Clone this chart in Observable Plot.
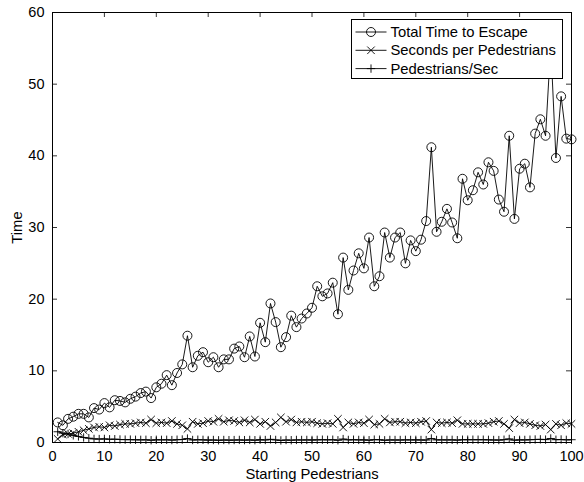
<!DOCTYPE html>
<html>
<head>
<meta charset="utf-8">
<script src="https://cdn.jsdelivr.net/npm/d3@7"></script>
<script src="https://cdn.jsdelivr.net/npm/@observablehq/plot@0.6"></script>
<style>
  html, body { margin: 0; padding: 0; background: #fff; }
  svg { display: block; }
</style>
</head>
<body>
<div id="chart"></div>
<script>
const pedestrians = d3.range(1, 101);

const totalTime = [
  2.8, 2.4, 3.3, 3.6, 4.0, 4.0, 3.5, 4.8, 4.6, 5.5,
  4.9, 5.9, 5.8, 5.6, 6.1, 6.4, 6.9, 7.1, 6.2, 7.7,
  8.2, 9.4, 8.0, 9.7, 10.9, 14.9, 10.5, 12.1, 12.6, 11.2,
  11.9, 10.5, 11.6, 11.6, 13.1, 13.4, 11.9, 14.8, 12.0, 16.7,
  14.0, 19.4, 16.8, 13.3, 14.7, 17.7, 16.1, 17.3, 18.0, 18.8,
  21.8, 20.4, 20.8, 22.3, 17.9, 25.8, 21.3, 24.0, 26.4, 24.3,
  28.6, 21.8, 23.2, 29.3, 25.8, 28.6, 29.3, 25.0, 28.2, 26.7,
  28.3, 30.9, 41.2, 29.4, 30.8, 32.6, 30.7, 28.5, 36.8, 33.8,
  35.2, 37.7, 36.0, 39.1, 37.9, 33.9, 32.2, 42.8, 31.2, 38.2,
  38.9, 35.6, 43.1, 45.1, 42.8, 55.5, 39.7, 48.3, 42.4, 42.3
];

const secondsPerPed = [
  0.5, 1.1, 1.2, 1.3, 1.5, 1.7, 1.9, 2.1, 2.2, 2.1,
  2.4, 2.3, 2.5, 2.6, 2.6, 2.7, 2.8, 2.7, 3.2, 2.7,
  2.8, 2.7, 3.0, 2.6, 2.4, 1.9, 2.9, 2.6, 2.7, 3.0,
  2.9, 3.3, 2.9, 3.1, 3.0, 2.8, 3.1, 2.8, 3.2, 2.6,
  2.9, 2.3, 2.8, 3.5, 2.9, 3.2, 2.8, 2.9, 2.8, 2.9,
  2.7, 2.6, 2.7, 2.6, 3.3, 2.1, 2.8, 2.6, 2.8, 2.7,
  3.2, 2.5, 2.6, 3.3, 2.8, 2.9, 2.9, 2.7, 2.8, 2.7,
  2.9, 3.0, 1.8, 2.8, 2.7, 2.8, 2.7, 3.1, 2.6, 2.6,
  2.6, 2.6, 2.6, 2.7, 2.9, 3.0, 2.6, 2.0, 3.2, 2.7,
  2.8, 2.6, 2.4, 2.3, 2.5, 1.8, 2.6, 2.4, 2.7, 2.6
];

const pedsPerSec = [
  1.5, 1.3, 1.2, 1.0, 0.85, 0.7, 0.6, 0.5, 0.48, 0.5,
  0.45, 0.46, 0.42, 0.4, 0.4, 0.38, 0.37, 0.38, 0.32, 0.38,
  0.37, 0.38, 0.34, 0.39, 0.42, 0.55, 0.35, 0.39, 0.37, 0.34,
  0.35, 0.31, 0.35, 0.33, 0.34, 0.36, 0.33, 0.36, 0.32, 0.39,
  0.35, 0.44, 0.36, 0.29, 0.35, 0.32, 0.36, 0.35, 0.36, 0.35,
  0.37, 0.39, 0.37, 0.39, 0.31, 0.48, 0.36, 0.39, 0.36, 0.37,
  0.32, 0.4, 0.39, 0.31, 0.36, 0.35, 0.35, 0.37, 0.36, 0.37,
  0.35, 0.34, 0.56, 0.36, 0.37, 0.36, 0.37, 0.33, 0.39, 0.39,
  0.39, 0.39, 0.39, 0.37, 0.35, 0.34, 0.39, 0.5, 0.32, 0.37,
  0.36, 0.39, 0.42, 0.44, 0.4, 0.56, 0.39, 0.42, 0.37, 0.39
];

const seriesNames = ["Total Time to Escape", "Seconds per Pedestrians", "Pedestrians/Sec"];
const seriesSymbols = ["circle", "times", "plus"];
const seriesRadii = [4.5, 3.5, 2.8];
const seriesValues = [totalTime, secondsPerPed, pedsPerSec];

const xTicks = [0, 10, 20, 30, 40, 50, 60, 70, 80, 90, 100];
const yTicks = [0, 10, 20, 30, 40, 50, 60];

const rows = [];
seriesNames.forEach((name, s) => {
  seriesValues[s].forEach((v, i) => rows.push({series: name, x: pedestrians[i], y: v}));
});

const W = 584, H = 482;
const mL = 52, mR = 13, mT = 12, mB = 40;
const plotW = W - mL - mR, plotH = H - mT - mB;
const tickLen = 5;
const font = "Liberation Sans, Arial, Helvetica, sans-serif";

const marks = [
  Plot.frame({stroke: "black", strokeWidth: 1}),
  Plot.tickX(xTicks, {x: d => d, insetTop: plotH - tickLen, stroke: "black", strokeWidth: 0.8}),
  Plot.tickX(xTicks, {x: d => d, insetBottom: plotH - tickLen, stroke: "black", strokeWidth: 0.8}),
  Plot.tickY(yTicks, {y: d => d, insetRight: plotW - tickLen, stroke: "black", strokeWidth: 0.8}),
  Plot.tickY(yTicks, {y: d => d, insetLeft: plotW - tickLen, stroke: "black", strokeWidth: 0.8}),
  Plot.axisX({ticks: xTicks, tickSize: 0, tickPadding: 8, tickFormat: d => String(d), fontSize: 14.5,
    label: null}),
  Plot.axisX({ticks: [], tickSize: 0, label: "Starting Pedestrians", labelAnchor: "center",
    labelArrow: "none", labelOffset: 36, fontSize: 14.8}),
  Plot.axisY({ticks: yTicks, tickSize: 0, tickPadding: 8, tickFormat: d => String(d), fontSize: 14.5,
    label: null}),
  Plot.axisY({ticks: [], tickSize: 0, label: "Time", labelAnchor: "center", labelArrow: "none",
    labelOffset: 41, fontSize: 14.8})
];

seriesNames.forEach((name, s) => {
  const data = rows.filter(r => r.series === name);
  marks.push(Plot.line(data, {x: "x", y: "y", stroke: "black", strokeWidth: 0.9}));
  marks.push(Plot.dot(data, {x: "x", y: "y", symbol: () => seriesSymbols[s], r: seriesRadii[s],
    stroke: "black", fill: "none", strokeWidth: 0.9}));
});

const chart = Plot.plot({
  width: W, height: H,
  marginLeft: mL, marginRight: mR, marginTop: mT, marginBottom: mB,
  style: {fontFamily: font, fontSize: "14.5px", color: "black", background: "white"},
  x: {domain: [0, 100]},
  y: {domain: [0, 60]},
  symbol: {domain: seriesSymbols, range: seriesSymbols},
  marks
});

// Legend inside the plot (top-right), MATLAB style
const svg = d3.select(chart);
const xs = chart.scale("x"), ys = chart.scale("y");
const frameRight = xs.apply(100), frameTop = ys.apply(60);
const lgW = 211, lgH = 59, rowH = 18.3;
const lg = svg.append("g")
  .attr("transform", `translate(${Math.round(frameRight - 9 - lgW) + 0.5},${Math.round(frameTop + 7) + 0.5})`)
  .attr("font-family", font).attr("font-size", 14.8).attr("text-anchor", "start");
lg.append("rect").attr("width", lgW).attr("height", lgH)
  .attr("fill", "white").attr("stroke", "black").attr("stroke-width", 1);
const symMap = {circle: d3.symbolCircle, times: d3.symbolTimes, plus: d3.symbolPlus};
seriesNames.forEach((name, s) => {
  const cy = 12.5 + s * rowH;
  lg.append("line").attr("x1", 4).attr("x2", 35).attr("y1", cy).attr("y2", cy)
    .attr("stroke", "black").attr("stroke-width", 0.9);
  if (seriesSymbols[s] === "circle") {
    lg.append("circle").attr("cx", 19.5).attr("cy", cy).attr("r", seriesRadii[s])
      .attr("fill", "none").attr("stroke", "black").attr("stroke-width", 0.9);
  } else {
    const r = seriesRadii[s];
    lg.append("path").attr("transform", `translate(19.5,${cy})`)
      .attr("d", d3.symbol(symMap[seriesSymbols[s]], r * r * Math.PI)())
      .attr("fill", "none").attr("stroke", "black").attr("stroke-width", 0.9);
  }
  lg.append("text").attr("x", 39).attr("y", cy).attr("dy", "0.35em")
    .attr("text-anchor", "start").attr("fill", "black").text(name);
});

document.getElementById("chart").appendChild(chart);
</script>
</body>
</html>
